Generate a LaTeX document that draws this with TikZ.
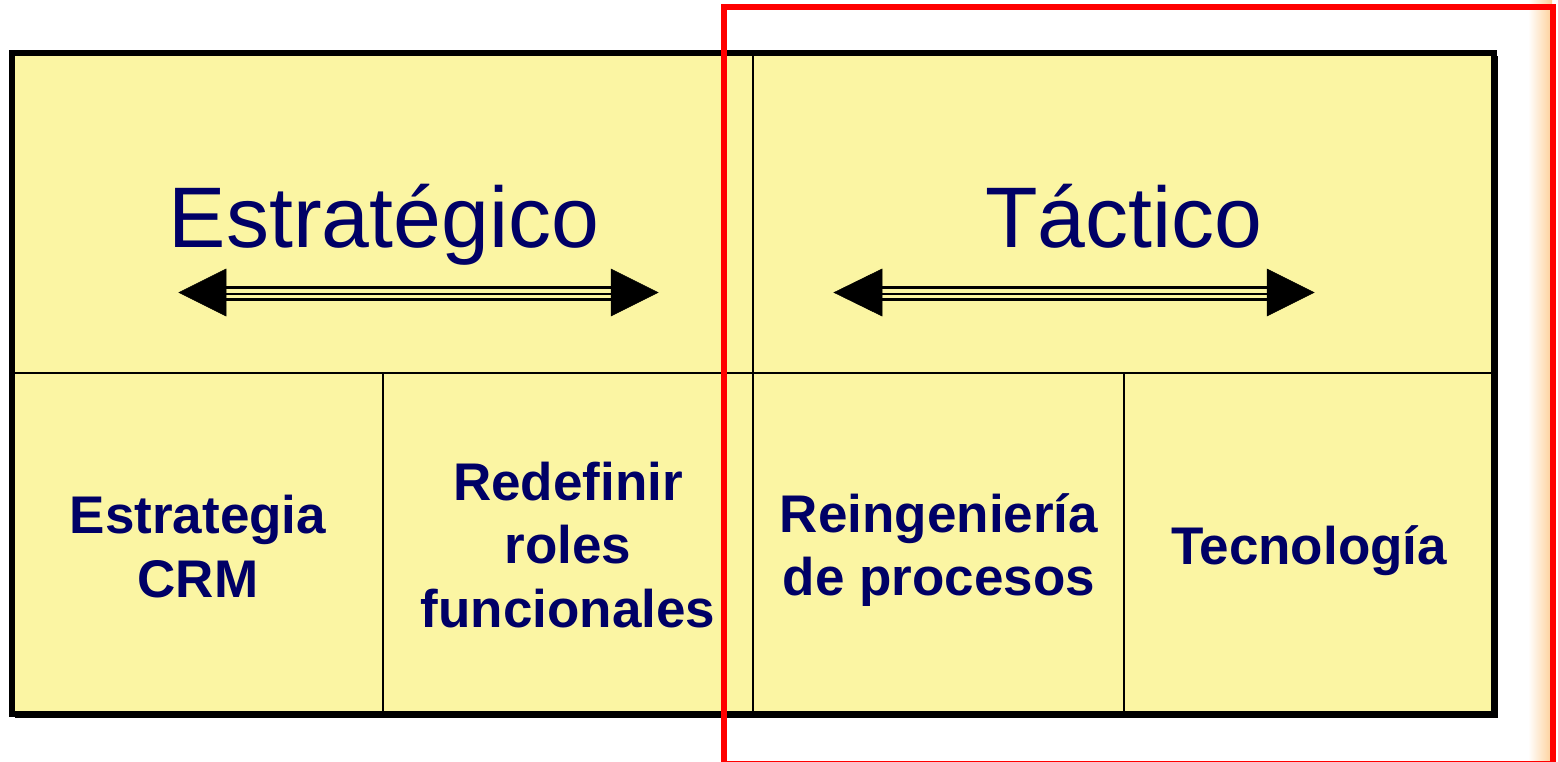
\documentclass[tikz,border=0pt]{standalone}
\usepackage{fontspec}
\setmainfont{Liberation Sans}
\definecolor{cellfill}{HTML}{FBF5A3}
\definecolor{navy}{HTML}{000066}
\definecolor{paleorange}{HTML}{FDD09A}
\tikzset{
  title/.style={anchor=base, text=navy, inner sep=0pt, font=\fontsize{86}{100}\selectfont},
  label/.style={anchor=base, text=navy, inner sep=0pt, font=\fontsize{53}{64}\selectfont\bfseries},
  thin divider/.style={line width=2.5pt, black},
  head/.style={fill=black, draw=black, line width=0.5pt},
}
\begin{document}
\begin{tikzpicture}[x=1pt, y=-1pt]
\useasboundingbox (0,0) rectangle (1558,761);
\fill[white] (0,0) rectangle (1558,761);
% faint orange gradient at right edge
\shade[left color=white, right color=paleorange] (1528,0) rectangle (1552,761);
% shadow + main box
\fill[black] (15,56) rectangle (1498,718);
\fill[cellfill] (12,53) rectangle (1494,714);
\draw[line width=6pt] (12,53) rectangle (1494,714);
% dividers
\coordinate (midtop) at (753,53);
\coordinate (midbot) at (753,714);
\coordinate (hl) at (12,373);
\coordinate (hr) at (1494,373);
\coordinate (d1t) at (383,373);
\coordinate (d1b) at (383,714);
\coordinate (d2t) at (1124,373);
\coordinate (d2b) at (1124,714);
\draw[thin divider] (midtop) -- (midbot);
\draw[thin divider] (hl) -- (hr);
\draw[thin divider] (d1t) -- (d1b);
\draw[thin divider] (d2t) -- (d2b);
% titles
\node[title] (estr) at (384,247) {Estratégico};
\node[title] (tact) at (1124,247) {Táctico};
% arrows: Estrategico
\coordinate (a1l) at (226,292.5);
\coordinate (a1r) at (611,292.5);
\draw[head] (179,292.5) -- (226,269) -- (226,316) -- cycle;
\draw[head] (658,292.5) -- (611,269) -- (611,316) -- cycle;
\draw[line width=3pt] ([yshift=-7pt]a1l) -- ([yshift=-7pt]a1r);
\draw[line width=2pt] ([yshift=-1.5pt]a1l) -- ([yshift=-1.5pt]a1r);
\draw[line width=3.4pt] ([yshift=5pt]a1l) -- ([yshift=5pt]a1r);
% arrows: Tactico
\coordinate (a2l) at (882,292.5);
\coordinate (a2r) at (1267,292.5);
\draw[head] (834,292.5) -- (882,269) -- (882,316) -- cycle;
\draw[head] (1314,292.5) -- (1267,269) -- (1267,316) -- cycle;
\draw[line width=3pt] ([yshift=-7pt]a2l) -- ([yshift=-7pt]a2r);
\draw[line width=2pt] ([yshift=-1.5pt]a2l) -- ([yshift=-1.5pt]a2r);
\draw[line width=3.4pt] ([yshift=5pt]a2l) -- ([yshift=5pt]a2r);
% cell labels
\node[label] (c1a) at (198,533) {Estrategia};
\node[label] (c1b) at (198,597) {CRM};
\node[label] (c2a) at (568,500) {Redefinir};
\node[label] (c2b) at (568,563) {roles};
\node[label] (c2c) at (568,627) {funcionales};
\node[label] (c3a) at (939,532) {Reingeniería};
\node[label] (c3b) at (939,595) {de procesos};
\node[label] (c4a) at (1309,564) {Tecnología};
% red highlight frame
\draw[red, line width=6pt] (724,7) -- (1553,7) -- (1553,764) -- (724,764) -- cycle;
\end{tikzpicture}
\end{document}
